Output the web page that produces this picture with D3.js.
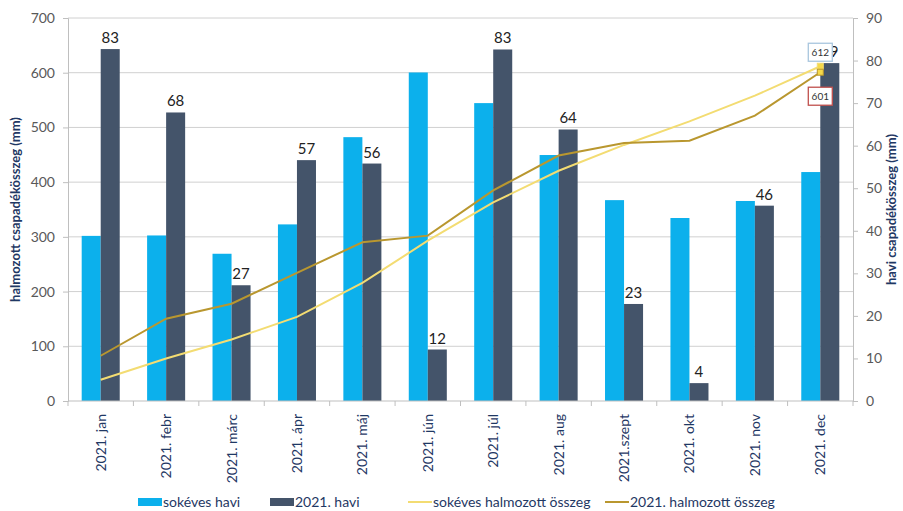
<!DOCTYPE html>
<html>
<head>
<meta charset="utf-8">
<script src="https://cdn.jsdelivr.net/npm/d3@7"></script>
<style>
  body { margin: 0; background: #fff; }
  text { font-family: Lato, 'Noto Sans', sans-serif; }
</style>
</head>
<body>
<svg width="903" height="511"></svg>
<script>
const months = ['2021. jan', '2021. febr', '2021. márc', '2021. ápr', '2021. máj', '2021. jún',
  '2021. júl', '2021. aug', '2021.szept', '2021. okt', '2021. nov', '2021. dec']
// monthly precipitation (mm), right axis
const longTerm = [38.8, 38.9, 34.6, 41.5, 62, 77.2, 70, 57.8, 47.2, 43, 47, 53.8]
const year2021 = [82.7, 67.8, 27.2, 56.6, 55.8, 12.1, 82.6, 63.8, 22.8, 4.2, 45.9, 79.4]
const leftTicks = [0, 100, 200, 300, 400, 500, 600, 700]
const rightTicks = [0, 10, 20, 30, 40, 50, 60, 70, 80, 90]
const seriesNames = ['sokéves havi', '2021. havi', 'sokéves halmozott összeg', '2021. halmozott összeg']

const svg = d3.select('svg')
const margin = { top: 18, right: 50, bottom: 110, left: 68 }
const width = +svg.attr('width')
const height = +svg.attr('height')
const innerWidth = width - margin.left - margin.right
const innerHeight = height - margin.top - margin.bottom

const colLight = '#0cb0ec'
const colDark = '#44546a'
const colLineLight = '#f3dc72'
const colLineDark = '#b9972f'
const navy = '#1f3864'

const cum = arr => { let s = 0; return arr.map(v => (s += v)) }
const cumLong = cum(longTerm)
const cum2021 = cum(year2021)

const x0 = d3.scaleBand().domain(months).range([0, innerWidth])
const x1 = d3.scaleBand().domain([0, 1]).range([0, x0.bandwidth()]).paddingOuter(0.72)
const yLeft = d3.scaleLinear().domain([0, 700]).range([innerHeight, 0])
const yRight = d3.scaleLinear().domain([0, 90]).range([innerHeight, 0])

const g = svg.append('g').attr('transform', `translate(${margin.left}, ${margin.top})`)

// gridlines
g.append('g')
  .selectAll('line')
  .data(leftTicks.slice(1))
  .enter().append('line')
  .attr('x1', 0).attr('x2', innerWidth)
  .attr('y1', d => yLeft(d)).attr('y2', d => yLeft(d))
  .style('stroke', '#d0d0d0')

// axes
const yAxisL = g.append('g')
  .call(d3.axisLeft(yLeft).tickValues(leftTicks).tickSize(5).tickPadding(8))
const yAxisR = g.append('g')
  .attr('transform', `translate(${innerWidth}, 0)`)
  .call(d3.axisRight(yRight).tickValues(rightTicks).tickSize(5).tickPadding(8))
;[yAxisL, yAxisR].forEach(ax => {
  ax.selectAll('.domain, .tick line').style('stroke', '#bfbfbf')
  ax.selectAll('.tick text').style('fill', '#595959').style('font-size', '14px')
})

// bars
const bars = g.selectAll('.month')
  .data(months)
  .enter().append('g')
  .attr('transform', d => `translate(${x0(d)}, 0)`)

bars.append('rect')
  .attr('x', x1(0))
  .attr('width', x1.bandwidth())
  .attr('y', (d, i) => yRight(longTerm[i]))
  .attr('height', (d, i) => innerHeight - yRight(longTerm[i]))
  .style('fill', colLight)

bars.append('rect')
  .attr('x', x1(1))
  .attr('width', x1.bandwidth())
  .attr('y', (d, i) => yRight(year2021[i]))
  .attr('height', (d, i) => innerHeight - yRight(year2021[i]))
  .style('fill', colDark)

bars.append('text')
  .attr('x', x1(1) + x1.bandwidth() / 2)
  .attr('y', (d, i) => yRight(year2021[i]) - 6)
  .attr('text-anchor', 'middle')
  .style('font-size', '15px')
  .style('fill', '#222')
  .text((d, i) => Math.round(year2021[i]))

// x axis
const xAxisG = g.append('g')
  .attr('transform', `translate(0, ${innerHeight})`)
xAxisG.append('line')
  .attr('x1', 0).attr('x2', innerWidth)
  .style('stroke', '#bfbfbf')
xAxisG.selectAll('.tk')
  .data(d3.range(months.length + 1))
  .enter().append('line')
  .attr('x1', i => i * x0.step()).attr('x2', i => i * x0.step())
  .attr('y1', 0).attr('y2', 5)
  .style('stroke', '#bfbfbf')
xAxisG.selectAll('.lbl')
  .data(months)
  .enter().append('text')
  .attr('transform', d => `translate(${x0(d) + x0.bandwidth() / 2 + 5}, 13) rotate(-90)`)
  .attr('text-anchor', 'end')
  .style('font-size', '14px')
  .style('fill', navy)
  .text(d => d)

// cumulative lines
const xc = d => x0(d) + x0.bandwidth() / 2
const lineL = d3.line().x((d, i) => xc(months[i])).y(d => yLeft(d))
g.append('path')
  .datum(cumLong)
  .attr('d', lineL)
  .style('fill', 'none').style('stroke', colLineLight).style('stroke-width', 2)
g.append('path')
  .datum(cum2021)
  .attr('d', lineL)
  .style('fill', 'none').style('stroke', colLineDark).style('stroke-width', 2)

const last = months.length - 1
const lx = xc(months[last])
;[[cumLong[last], colLineLight], [cum2021[last], colLineDark]].forEach(([v, c]) => {
  g.append('rect')
    .attr('x', lx - 3).attr('y', yLeft(v) - 3)
    .attr('width', 6).attr('height', 6)
    .style('fill', '#f5d94a').style('stroke', c)
})

// end labels
const endLabel = (v, dy, border) => {
  const lg = g.append('g').attr('transform', `translate(${lx}, ${yLeft(v) + dy})`)
  lg.append('rect')
    .attr('x', -12).attr('y', -9).attr('width', 24).attr('height', 18)
    .style('fill', '#fff').style('stroke', border).style('stroke-width', 1.3)
  lg.append('text')
    .attr('text-anchor', 'middle').attr('dy', '0.35em')
    .style('font-size', '10px').style('fill', '#333')
    .text(Math.round(v))
}
endLabel(cumLong[last], -14, '#a9c6de')
endLabel(cum2021[last], 24, '#c0504d')

// axis titles
svg.append('text')
  .attr('transform', `translate(20, ${margin.top + innerHeight / 2}) rotate(-90)`)
  .attr('text-anchor', 'middle')
  .style('font-size', '13px').style('font-weight', 'bold').style('fill', navy)
  .text('halmozott csapadékösszeg (mm)')
svg.append('text')
  .attr('transform', `translate(896, ${margin.top + innerHeight / 2}) rotate(-90)`)
  .attr('text-anchor', 'middle')
  .style('font-size', '13px').style('font-weight', 'bold').style('fill', navy)
  .text('havi csapadékösszeg (mm)')

// legend
const legendX = [138, 270, 408, 605]
const legend = svg.append('g').attr('transform', 'translate(0, 502)')
seriesNames.forEach((name, i) => {
  const item = legend.append('g').attr('transform', `translate(${legendX[i]}, 0)`)
  if (i < 2) {
    item.append('rect')
      .attr('x', 0).attr('y', -4).attr('width', 24).attr('height', 8)
      .style('fill', i === 0 ? colLight : colDark)
  } else {
    item.append('line')
      .attr('x1', 0).attr('x2', 24)
      .style('stroke', i === 2 ? colLineLight : colLineDark).style('stroke-width', 2)
  }
  item.append('text')
    .attr('x', 25).attr('dy', '0.35em')
    .style('font-size', '14px').style('fill', navy)
    .text(name)
})
</script>
</body>
</html>
